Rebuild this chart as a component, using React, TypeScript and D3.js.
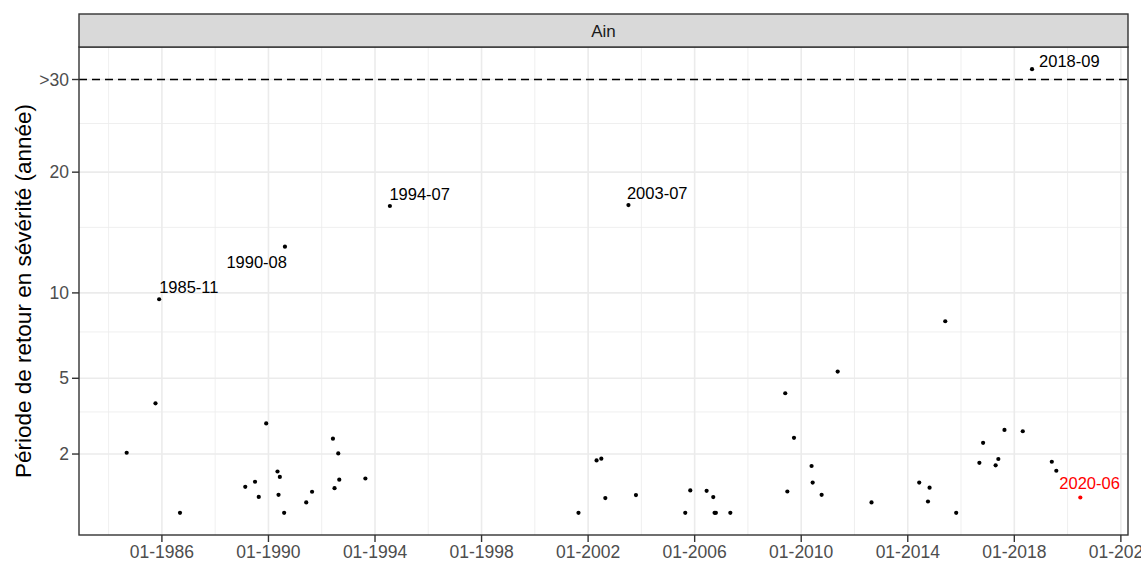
import React from "react";
import * as d3 from "d3";

// ---- data ----
const eventDates: string[] = [
  "1984-09-05", "1985-10-05", "1985-11-24", "1986-09-06", "1989-02-17", "1989-07-01",
  "1989-08-21", "1989-12-01", "1990-05-05", "1990-06-06", "1990-05-19", "1990-08-04",
  "1990-08-15", "1991-06-03", "1991-08-22", "1992-06-03", "1992-08-15", "1992-06-25",
  "1992-08-29", "1993-08-22", "1994-07-24", "2001-08-22", "2002-04-27", "2002-07-01",
  "2002-08-25", "2003-07-08", "2003-10-19", "2005-08-25", "2005-11-02", "2006-06-14",
  "2006-09-13", "2006-10-01", "2006-10-19", "2007-05-05", "2009-05-27", "2009-06-25",
  "2009-09-24", "2010-05-23", "2010-06-07", "2010-10-08", "2011-05-16", "2012-08-22",
  "2014-06-07", "2014-10-27", "2014-10-05", "2015-05-30", "2015-10-27", "2016-09-09",
  "2016-10-30", "2017-04-20", "2017-05-27", "2017-08-19", "2018-04-27", "2018-09-01",
  "2019-05-30", "2019-07-31", "2020-06-24",
];
const returnPeriods: number[] = [
  2.04, 3.86, 9.57, 0.603, 1.12, 1.24,
  0.90, 3.05, 1.50, 1.36, 0.945, 0.603,
  13.42, 0.79, 1.01, 2.50, 2.02, 1.09,
  1.29, 1.32, 16.85, 0.603, 1.81, 1.86,
  0.877, 16.93, 0.939, 0.603, 1.04, 1.03,
  0.897, 0.603, 0.603, 0.603, 4.30, 1.016,
  2.53, 1.65, 1.22, 0.945, 5.33, 0.79,
  1.22, 1.10, 0.809, 8.15, 0.603, 1.74,
  2.36, 1.67, 1.85, 2.81, 2.76, 31.24,
  1.77, 1.52, 0.889,
];
const labelledEvents: string[] = ["1985-11", "1990-08", "1994-07", "2003-07", "2018-09", "2020-06"];
const currentEvent = "2020-06";
const xBreakYears: number[] = [1986, 1990, 1994, 1998, 2002, 2006, 2010, 2014, 2018, 2022];
const yBreaks: number[] = [2, 5, 10, 20, 30];
const yTickLabels: string[] = ["2", "5", "10", "20", ">30"];
const thresholdValue = 30;
const stationName = "Ain";
const yTitle = "Période de retour en sévérité (année)";

// label placement (offsets in px relative to the point, and anchor)
const labelPlacement: Record<string, { dx: number; dy: number; anchor: string }> = {
  "1985-11": { dx: 0, dy: -6, anchor: "start" },
  "1990-08": { dx: 2, dy: 21, anchor: "end" },
  "1994-07": { dx: -0.5, dy: -6.5, anchor: "start" },
  "2003-07": { dx: -1.5, dy: -6, anchor: "start" },
  "2018-09": { dx: 7, dy: -2, anchor: "start" },
  "2020-06": { dx: -21, dy: -8.5, anchor: "start" },
};

const W = 1141;
const H = 562;
const panel = { left: 79, right: 1128, top: 47, bottom: 535 };
const strip = { top: 14, bottom: 47 };
const FONT = "'Liberation Sans', Arial, sans-serif";

export default function App() {
  const parse = d3.timeParse("%Y-%m-%d");
  const data = eventDates.map((d, i) => {
    const date = parse(d) as Date;
    return { date, value: returnPeriods[i], key: d3.timeFormat("%Y-%m")(date) };
  });

  const [dMin, dMax] = d3.extent(data, (d) => d.date) as [Date, Date];
  const span = +dMax - +dMin;
  const x = d3
    .scaleTime()
    .domain([new Date(+dMin - span * 0.05), new Date(+dMax + span * 0.05)])
    .range([panel.left, panel.right]);

  const [vMin, vMax] = d3.extent(data, (d) => d.value) as [number, number];
  const sMin = Math.sqrt(vMin);
  const sMax = Math.sqrt(vMax);
  const sSpan = sMax - sMin;
  const lo = sMin - sSpan * 0.05;
  const hi = sMax + sSpan * 0.05;
  const y = d3
    .scaleSqrt()
    .domain([lo * lo, hi * hi])
    .range([panel.bottom, panel.top]);

  const xDomain = x.domain();
  const inX = (d: Date) => d >= xDomain[0] && d <= xDomain[1];
  const majorX = xBreakYears.map((yr) => new Date(yr, 0, 1)).filter(inX);
  const minorX = [xBreakYears[0] - 2, ...xBreakYears.map((yr) => yr + 2)]
    .map((yr) => new Date(yr, 0, 1))
    .filter(inX);
  const minorY = yBreaks.slice(0, -1).map((b, i) => (b + yBreaks[i + 1]) / 2);

  const fmt = d3.timeFormat("%m-%Y");

  // for each labelled month, label the highest point of that month
  const labelled = labelledEvents
    .map((k) => {
      const pts = data.filter((d) => d.key === k);
      return pts.length ? (d3.greatest(pts, (d) => d.value) as (typeof data)[number]) : null;
    })
    .filter((d): d is (typeof data)[number] => d !== null);

  return (
    <svg width={W} height={H} style={{ position: "absolute", left: 0, top: 0, background: "#fff" }} fontFamily={FONT}>
      <rect x={0} y={0} width={W} height={H} fill="#fff" />
      {/* minor gridlines */}
      {minorY.map((v) => (
        <line key={"my" + v} x1={panel.left} x2={panel.right} y1={y(v)} y2={y(v)} stroke="#EBEBEB" strokeWidth={0.8} />
      ))}
      {minorX.map((d) => (
        <line key={"mx" + +d} x1={x(d)} x2={x(d)} y1={panel.top} y2={panel.bottom} stroke="#EBEBEB" strokeWidth={0.8} />
      ))}
      {/* major gridlines */}
      {yBreaks.map((v) => (
        <line key={"gy" + v} x1={panel.left} x2={panel.right} y1={y(v)} y2={y(v)} stroke="#EBEBEB" strokeWidth={1.6} />
      ))}
      {majorX.map((d) => (
        <line key={"gx" + +d} x1={x(d)} x2={x(d)} y1={panel.top} y2={panel.bottom} stroke="#EBEBEB" strokeWidth={1.6} />
      ))}
      {/* threshold */}
      <line
        x1={panel.left}
        x2={panel.right}
        y1={y(thresholdValue)}
        y2={y(thresholdValue)}
        stroke="#000"
        strokeWidth={1.6}
        strokeDasharray="8,5"
      />
      {/* points */}
      {data.map((d, i) => (
        <circle key={i} cx={x(d.date)} cy={y(d.value)} r={2.1} fill={d.key === currentEvent ? "#FF0000" : "#000"} />
      ))}
      {/* labels */}
      {labelled.map((d) => {
        const p = labelPlacement[d.key];
        return (
          <text
            key={"l" + d.key}
            x={x(d.date) + p.dx}
            y={y(d.value) + p.dy}
            textAnchor={p.anchor}
            fontSize={16.5}
            fill={d.key === currentEvent ? "#FF0000" : "#000"}
          >
            {d.key}
          </text>
        );
      })}
      {/* panel border */}
      <rect
        x={panel.left}
        y={panel.top}
        width={panel.right - panel.left}
        height={panel.bottom - panel.top}
        fill="none"
        stroke="#333333"
        strokeWidth={1.4}
      />
      {/* strip */}
      <rect
        x={panel.left}
        y={strip.top}
        width={panel.right - panel.left}
        height={strip.bottom - strip.top}
        fill="#D9D9D9"
        stroke="#333333"
        strokeWidth={1.4}
      />
      <text x={(panel.left + panel.right) / 2} y={(strip.top + strip.bottom) / 2 + 6} textAnchor="middle" fontSize={17} fill="#1A1A1A">
        {stationName}
      </text>
      {/* y axis */}
      {yBreaks.map((v, i) => (
        <g key={"ty" + v}>
          <line x1={panel.left - 7} x2={panel.left} y1={y(v)} y2={y(v)} stroke="#333333" strokeWidth={1.4} />
          <text x={panel.left - 10} y={y(v) + 6} textAnchor="end" fontSize={17.5} fill="#4D4D4D">
            {yTickLabels[i]}
          </text>
        </g>
      ))}
      {/* x axis */}
      {majorX.map((d) => (
        <g key={"tx" + +d}>
          <line x1={x(d)} x2={x(d)} y1={panel.bottom} y2={panel.bottom + 7} stroke="#333333" strokeWidth={1.4} />
          <text x={x(d)} y={panel.bottom + 23} textAnchor="middle" fontSize={17.5} fill="#4D4D4D">
            {fmt(d)}
          </text>
        </g>
      ))}
      {/* y title */}
      <text
        transform={`translate(31,${(panel.top + panel.bottom) / 2}) rotate(-90)`}
        textAnchor="middle"
        fontSize={22.5}
        fill="#000"
      >
        {yTitle}
      </text>
    </svg>
  );
}
